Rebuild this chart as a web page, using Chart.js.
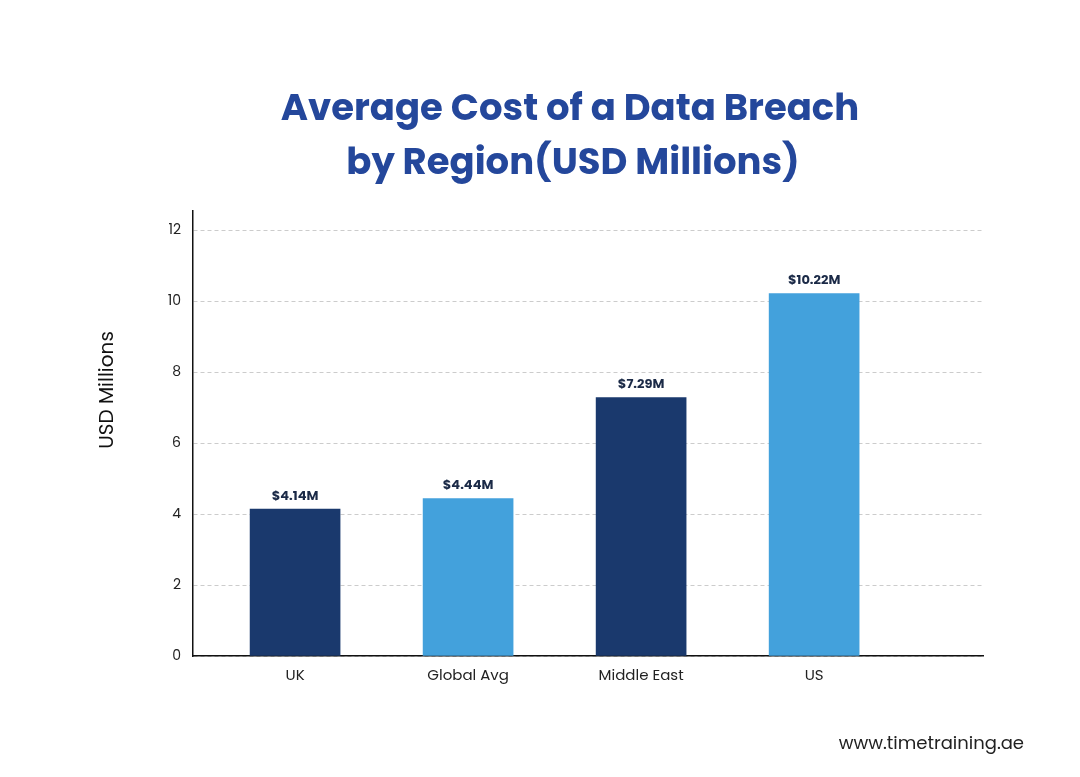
<!DOCTYPE html>
<html>
<head>
<meta charset="utf-8">
<script src="https://cdn.jsdelivr.net/npm/chart.js@4"></script>
<style>
  html, body { margin: 0; padding: 0; background: #fff; }
  #wrap { width: 1080px; height: 777px; }
</style>
</head>
<body>
<div id="wrap"><canvas id="breachChart"></canvas></div>
<script>
// data
const regions = ['UK', 'Global Avg', 'Middle East', 'US'];
const costs = [4.14, 4.44, 7.29, 10.22];
const costLabels = ['$4.14M', '$4.44M', '$7.29M', '$10.22M'];
const barColors = ['#1a396d', '#43a1dc', '#1a396d', '#43a1dc'];
const positions = [0.59, 1.59, 2.59, 3.59];

// title, axis title, value labels above bars + footer text
const extras = {
  id: 'extras',
  afterDraw(chart) {
    const ctx = chart.ctx;
    const meta = chart.getDatasetMeta(0);
    ctx.save();
    ctx.font = 'bold 13px Poppins, Inter, sans-serif';
    ctx.fillStyle = '#1b2a47';
    ctx.textAlign = 'center';
    ctx.textBaseline = 'bottom';
    meta.data.forEach((bar, i) => {
      ctx.fillText(costLabels[i], bar.x, bar.y - 6);
    });

    ctx.font = 'bold 37px Poppins, Inter, sans-serif';
    ctx.fillStyle = '#24479b';
    ctx.textBaseline = 'middle';
    ctx.fillText('Average Cost of a Data Breach', 570, 111);
    ctx.fillText('by Region(USD Millions)', 573, 165);

    ctx.save();
    ctx.translate(108, 390);
    ctx.rotate(-Math.PI / 2);
    ctx.font = '20px Poppins, Inter, sans-serif';
    ctx.fillStyle = '#111';
    ctx.fillText('USD Millions', 0, 0);
    ctx.restore();

    ctx.font = '18px Poppins, Inter, sans-serif';
    ctx.fillStyle = '#222';
    ctx.textAlign = 'right';
    ctx.fillText('www.timetraining.ae', 1024, 744);
    ctx.restore();
  }
};

const ctx = document.getElementById('breachChart').getContext('2d');
new Chart(ctx, {
  type: 'bar',
  data: {
    datasets: [{
      data: positions.map((p, i) => ({ x: p, y: costs[i] })),
      backgroundColor: barColors,
      barThickness: 90
    }]
  },
  plugins: [extras],
  options: {
    responsive: true,
    maintainAspectRatio: false,
    animation: false,
    layout: { padding: { top: 211, left: 0, right: 97, bottom: 89 } },
    plugins: {
      legend: { display: false },
      tooltip: { enabled: false }
    },
    scales: {
      x: {
        type: 'linear',
        offset: false,
        min: 0,
        max: 4.566,
        afterBuildTicks(scale) {
          scale.ticks = positions.map(v => ({ value: v }));
        },
        ticks: {
          color: '#222',
          font: { size: 15, family: 'Poppins, Inter, sans-serif' },
          callback: (v, i) => regions[i]
        },
        grid: { display: false },
        border: { color: '#111', width: 1.5 }
      },
      y: {
        min: 0,
        max: 12.55,
        afterFit(scale) { scale.width = 193; },
        afterBuildTicks(scale) {
          scale.ticks = [0, 2, 4, 6, 8, 10, 12].map(v => ({ value: v }));
        },
        ticks: {
          color: '#222',
          padding: 12,
          font: { size: 14, family: 'Poppins, Inter, sans-serif' }
        },
        grid: { color: '#cccccc', drawTicks: false },
        border: { color: '#111', width: 1.5, dash: [4, 3] }
      }
    }
  }
});
</script>
</body>
</html>
